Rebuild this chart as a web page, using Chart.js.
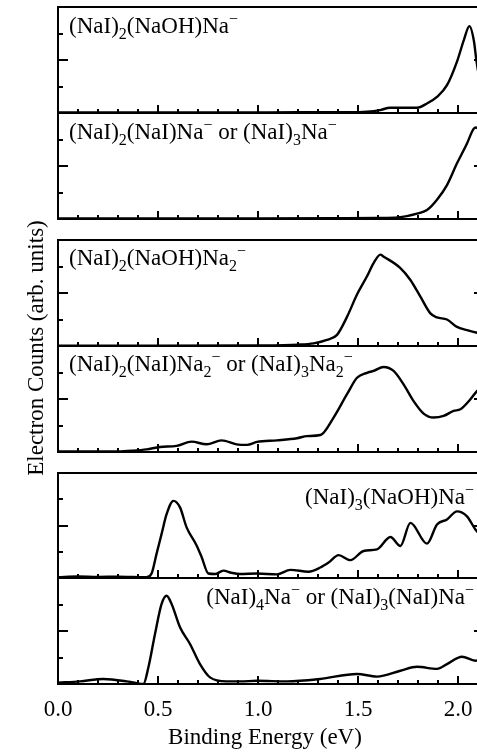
<!DOCTYPE html>
<html><head><meta charset="utf-8">
<script src="https://cdn.jsdelivr.net/npm/chart.js@4.4.1/dist/chart.umd.min.js"></script>
<style>
html,body{margin:0;padding:0;background:#fff;width:477px;height:753px;overflow:hidden;position:relative}
canvas{position:absolute;left:0;top:0}
</style></head><body>
<canvas id="frame" width="486" height="753"></canvas>
<canvas id="p1" width="486" height="753"></canvas>
<canvas id="p2" width="486" height="753"></canvas>
<canvas id="p3" width="486" height="753"></canvas>
<canvas id="p4" width="486" height="753"></canvas>
<canvas id="p5" width="486" height="753"></canvas>
<canvas id="p6" width="486" height="753"></canvas>
<script>
// ---- data (binding energy in eV, electron counts in arb. units) ----
const energy1 = [0, 0.3, 0.6, 0.9, 1.2, 1.45, 1.545, 1.61, 1.66, 1.72, 1.795, 1.845, 1.895, 1.945, 1.995, 2.03, 2.057, 2.08, 2.09, 2.1, 2.13];
const counts1 = [0.02, 0.02, 0.02, 0.02, 0.03, 0.03, 0.05, 0.11, 0.2, 0.2, 0.2, 0.36, 0.61, 1.05, 1.94, 2.77, 3.28, 2.7, 2.1, 1.6, 0.7];

const energy2 = [0, 0.5, 1.0, 1.4, 1.6, 1.7, 1.795, 1.845, 1.895, 1.945, 1.995, 2.045, 2.078, 2.09, 2.13];
const counts2 = [0.02, 0.02, 0.02, 0.03, 0.04, 0.06, 0.2, 0.34, 0.73, 1.28, 2.1, 2.85, 3.4, 3.45, 3.1];

const energy3 = [0, 0.5, 1.0, 1.2, 1.278, 1.345, 1.395, 1.445, 1.495, 1.545, 1.578, 1.612, 1.627, 1.712, 1.762, 1.812, 1.862, 1.895, 1.945, 1.995, 2.045, 2.095, 2.13];
const counts3 = [0.01, 0.01, 0.02, 0.05, 0.1, 0.23, 0.42, 1.1, 1.94, 2.63, 3.13, 3.45, 3.38, 2.94, 2.49, 1.86, 1.23, 1.08, 1.0, 0.72, 0.6, 0.5, 0.45];

const energy4 = [0, 0.3, 0.375, 0.443, 0.51, 0.593, 0.668, 0.743, 0.818, 0.893, 0.945, 0.995, 1.095, 1.195, 1.245, 1.312, 1.378, 1.445, 1.495, 1.545, 1.578, 1.628, 1.678, 1.728, 1.778, 1.828, 1.878, 1.928, 1.978, 2.012, 2.062, 2.095, 2.13];
const counts4 = [0.02, 0.02, 0.05, 0.1, 0.19, 0.23, 0.39, 0.29, 0.44, 0.29, 0.27, 0.38, 0.44, 0.52, 0.6, 0.64, 1.3, 2.18, 2.8, 2.99, 3.06, 3.21, 3.06, 2.55, 1.92, 1.45, 1.3, 1.36, 1.55, 1.61, 1.99, 2.3, 2.5];

const energy5 = [0, 0.1, 0.2, 0.3, 0.443, 0.468, 0.493, 0.518, 0.543, 0.577, 0.61, 0.643, 0.693, 0.718, 0.752, 0.785, 0.827, 0.867, 0.91, 0.995, 1.095, 1.162, 1.253, 1.312, 1.353, 1.403, 1.462, 1.528, 1.595, 1.662, 1.712, 1.762, 1.845, 1.895, 1.945, 1.995, 2.045, 2.087, 2.13];
const counts5 = [0.03, 0.06, 0.04, 0.05, 0.03, 0.17, 0.93, 1.68, 2.43, 2.94, 2.69, 1.93, 1.24, 0.8, 0.17, 0.15, 0.28, 0.2, 0.15, 0.17, 0.14, 0.31, 0.24, 0.4, 0.59, 0.87, 0.68, 1.03, 1.09, 1.56, 1.22, 2.1, 1.31, 2.04, 2.23, 2.54, 2.35, 1.85, 1.5];

const energy6 = [0, 0.11, 0.227, 0.343, 0.393, 0.427, 0.452, 0.485, 0.518, 0.543, 0.568, 0.61, 0.66, 0.71, 0.76, 0.843, 0.91, 0.995, 1.145, 1.31, 1.495, 1.595, 1.712, 1.795, 1.895, 1.945, 2.02, 2.087, 2.13];
const counts6 = [0.05, 0.1, 0.19, 0.1, 0.03, 0.0, 0.63, 1.89, 3.02, 3.33, 3.02, 2.14, 1.51, 0.75, 0.25, 0.1, 0.1, 0.12, 0.1, 0.19, 0.38, 0.28, 0.5, 0.65, 0.57, 0.75, 1.03, 0.88, 0.95];

// panel labels: [text, kind] with kind n = normal, sub = subscript, sup = superscript
const label1 = [['(NaI)','n'],['2','sub'],['(NaOH)Na','n'],['\u2212','sup']];
const label2 = [['(NaI)','n'],['2','sub'],['(NaI)Na','n'],['\u2212','sup'],[' or (NaI)','n'],['3','sub'],['Na','n'],['\u2212','sup']];
const label3 = [['(NaI)','n'],['2','sub'],['(NaOH)Na','n'],['2','sub'],['\u2212','sup']];
const label4 = [['(NaI)','n'],['2','sub'],['(NaI)Na','n'],['2','sub'],['\u2212','sup'],[' or (NaI)','n'],['3','sub'],['Na','n'],['2','sub'],['\u2212','sup']];
const label5 = [['(NaI)','n'],['3','sub'],['(NaOH)Na','n'],['\u2212','sup']];
const label6 = [['(NaI)','n'],['4','sub'],['Na','n'],['\u2212','sup'],[' or (NaI)','n'],['3','sub'],['(NaI)Na','n'],['\u2212','sup']];

// axis ticks
const xTickValues = [0.0, 0.5, 1.0, 1.5, 2.0];
const xMinorTickValues = [0.0,0.1,0.2,0.3,0.4,0.5,0.6,0.7,0.8,0.9,1.0,1.1,1.2,1.3,1.4,1.5,1.6,1.7,1.8,1.9,2.0,2.1];
const yTickValues = [1, 2, 3];
const xTitle = 'Binding Energy (eV)';
const yTitle = 'Electron Counts (arb. units)';

// ---- layout ----
const W = 486, H = 753;
const FONT = '"Liberation Serif", "Times New Roman", serif';
Chart.defaults.font.family = FONT;
Chart.defaults.color = '#000';

const panelFrame = {
  id: 'panelFrame',
  afterDatasetsDraw(chart, args, opts) {
    const {ctx, chartArea: a} = chart;
    const x = chart.scales.x, y = chart.scales.y;
    ctx.save();
    ctx.strokeStyle = '#000';
    ctx.lineWidth = 2;
    ctx.strokeRect(a.left, a.top, a.right - a.left, a.bottom - a.top);
    ctx.lineWidth = 2;
    ctx.beginPath();
    xMinorTickValues.forEach(v => {
      const px = Math.round(x.getPixelForValue(v));
      const major = Math.abs(v * 2 - Math.round(v * 2)) < 1e-6;
      const len = major ? 8 : 4;
      ctx.moveTo(px, a.bottom);
      ctx.lineTo(px, a.bottom - len);
    });
    yTickValues.forEach(v => {
      const py = Math.round(y.getPixelForValue(v));
      const len = v === 2 ? 10 : 5;
      ctx.moveTo(a.left, py); ctx.lineTo(a.left + len, py);
      ctx.moveTo(a.right, py); ctx.lineTo(a.right - len, py);
    });
    ctx.stroke();
    // label
    const segs = opts.label || [];
    const big = '23px ' + FONT, small = '16px ' + FONT;
    let total = 0;
    segs.forEach(s => { ctx.font = s[1] === 'n' ? big : small; total += ctx.measureText(s[0]).width; });
    let cx = opts.align === 'right' ? opts.x - total : opts.x;
    const base = a.top + opts.dy;
    ctx.fillStyle = '#000';
    ctx.textBaseline = 'alphabetic';
    ctx.textAlign = 'left';
    segs.forEach(s => {
      ctx.font = s[1] === 'n' ? big : small;
      const yy = s[1] === 'sub' ? base + 6 : (s[1] === 'sup' ? base - 9 : base);
      ctx.fillText(s[0], cx, yy);
      cx += ctx.measureText(s[0]).width;
    });
    ctx.restore();
  }
};

const panels = [
  {id: 'p1', e: energy1, c: counts1, top: 7,   bottom: 113, label: label1, align: 'left',  x: 69,  dy: 26},
  {id: 'p2', e: energy2, c: counts2, top: 113, bottom: 219, label: label2, align: 'left',  x: 69,  dy: 26},
  {id: 'p3', e: energy3, c: counts3, top: 240, bottom: 346, label: label3, align: 'left',  x: 69,  dy: 25},
  {id: 'p4', e: energy4, c: counts4, top: 346, bottom: 452, label: label4, align: 'left',  x: 69,  dy: 25},
  {id: 'p5', e: energy5, c: counts5, top: 473, bottom: 578, label: label5, align: 'right', x: 474, dy: 31},
  {id: 'p6', e: energy6, c: counts6, top: 578, bottom: 684, label: label6, align: 'right', x: 474, dy: 26}
];

panels.forEach(p => {
  new Chart(document.getElementById(p.id), {
    type: 'line',
    data: {
      datasets: [{
        data: p.e.map((v, i) => ({x: v, y: p.c[i]})),
        borderColor: '#000',
        borderWidth: 2.4,
        pointRadius: 0,
        fill: false,
        cubicInterpolationMode: 'monotone'
      }]
    },
    options: {
      responsive: false,
      animation: false,
      devicePixelRatio: 1,
      layout: {padding: {left: 58, right: W - 484, top: p.top, bottom: H - p.bottom}},
      plugins: {
        legend: {display: false},
        tooltip: {enabled: false},
        panelFrame: {label: p.label, align: p.align, x: p.x, dy: p.dy}
      },
      scales: {
        x: {type: 'linear', min: 0, max: 2.13, display: false},
        y: {type: 'linear', min: 0, max: 4, display: false}
      }
    },
    plugins: [panelFrame]
  });
});

// frame chart: shared axis labels and titles
new Chart(document.getElementById('frame'), {
  type: 'line',
  data: {datasets: []},
  options: {
    responsive: false,
    animation: false,
    devicePixelRatio: 1,
    layout: {padding: {left: 0, right: 0, top: 12, bottom: 0}},
    plugins: {legend: {display: false}, tooltip: {enabled: false}},
    scales: {
      x: {
        type: 'linear', position: 'bottom', min: 0, max: 2.07,
        grid: {display: false, drawTicks: false},
        border: {display: false},
        afterBuildTicks: s => { s.ticks = xTickValues.map(v => ({value: v})); },
        afterFit: s => { s.height = 69; },
        ticks: {
          autoSkip: false, maxRotation: 0, padding: 12,
          font: {size: 23}, color: '#000',
          callback: v => Number(v).toFixed(1)
        },
        title: {display: true, text: xTitle, font: {size: 23}, color: '#000', padding: {top: 0, bottom: 1}}
      },
      y: {
        type: 'linear', position: 'left', min: 0, max: 1,
        grid: {display: false, drawTicks: false},
        border: {display: false},
        ticks: {display: false},
        afterFit: s => { s.width = 58; },
        title: {display: true, text: yTitle, font: {size: 23}, color: '#000', padding: {top: 23, bottom: 0}}
      },
      yr: {
        type: 'linear', position: 'right', min: 0, max: 1,
        grid: {display: false, drawTicks: false},
        border: {display: false},
        ticks: {display: false},
        afterFit: s => { s.width = 14; }
      }
    }
  }
});
</script>
</body></html>
